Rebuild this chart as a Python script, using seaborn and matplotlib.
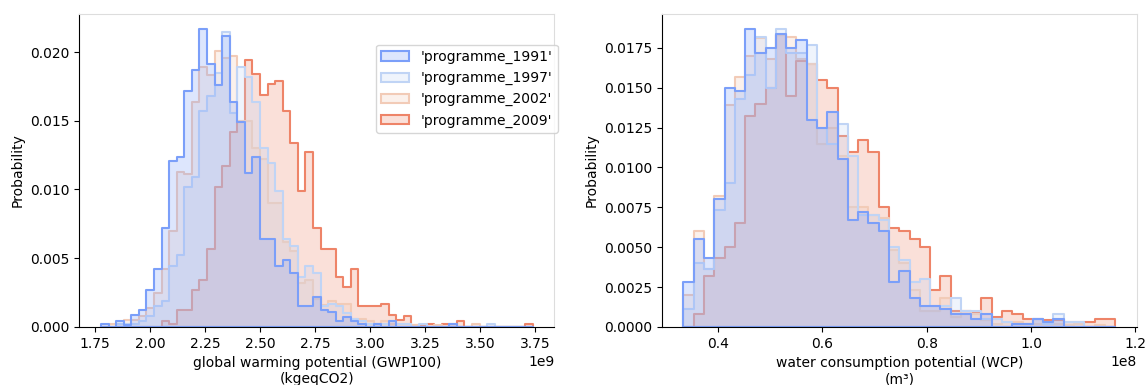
import numpy as np
import pandas as pd
import matplotlib
matplotlib.use("Agg")
import matplotlib.pyplot as plt
import seaborn as sns

# ---------------- data (probability per bin) ----------------
programmes = ["'programme_1991'", "'programme_1997'", "'programme_2002'", "'programme_2009'"]

# global warming potential (GWP100), common bins
gwp_bin_start = 1.7773e9
gwp_bin_width = 0.03440e9
gwp_1991 = [0.0002, 0, 0.0004, 0.0001, 0.0009, 0.0012, 0.0027, 0.0042, 0.0072, 0.0121,
            0.0124, 0.0172, 0.0187, 0.0217, 0.0191, 0.0176, 0.0212, 0.0164, 0.0149, 0.0112,
            0.0124, 0.0064, 0.0064, 0.0044, 0.0049, 0.0039, 0.0015, 0.0015, 0.0022, 0.0012,
            0.0011, 0.0004, 0.0007, 0.0004, 0.0002, 0, 0.0002, 0, 0.0004, 0,
            0, 0, 0, 0, 0, 0, 0.0002, 0, 0, 0,
            0, 0, 0, 0, 0, 0, 0]
gwp_1997 = [0, 0, 0.0002, 0.0002, 0.0002, 0.0004, 0.0008, 0.0015, 0.0019, 0.0044,
            0.0052, 0.0102, 0.0109, 0.0157, 0.0168, 0.0185, 0.0215, 0.0156, 0.0189, 0.0182,
            0.0164, 0.0130, 0.0119, 0.0099, 0.0064, 0.0059, 0.0036, 0.0044, 0.0039, 0.0015,
            0.0017, 0.0015, 0.0010, 0.0006, 0.0004, 0.0002, 0.0002, 0.0002, 0, 0.0002,
            0.0002, 0, 0.0002, 0, 0, 0, 0, 0, 0, 0,
            0, 0.0002, 0, 0, 0, 0, 0]
gwp_2002 = [0, 0.0002, 0.0002, 0.0005, 0.0005, 0.0008, 0.0014, 0.0025, 0.0042, 0.0070,
            0.0113, 0.0111, 0.0164, 0.0189, 0.0183, 0.0201, 0.0196, 0.0197, 0.0150, 0.0150,
            0.0130, 0.0122, 0.0090, 0.0090, 0.0062, 0.0055, 0.0032, 0.0034, 0.0020, 0.0016,
            0.0019, 0.0017, 0.0017, 0.0006, 0.0006, 0.0004, 0.0002, 0.0004, 0.0002, 0.0002,
            0.0002, 0.0001, 0, 0, 0.0001, 0, 0, 0, 0, 0.0002,
            0, 0, 0, 0, 0, 0, 0]
gwp_2009 = [0, 0, 0, 0, 0, 0, 0, 0, 0.0004, 0.0002,
            0.0012, 0.0012, 0.0027, 0.0034, 0.0057, 0.0102, 0.0117, 0.0142, 0.0149, 0.0194,
            0.0184, 0.0169, 0.0177, 0.0179, 0.0157, 0.0134, 0.0099, 0.0127, 0.0072, 0.0057,
            0.0057, 0.0036, 0.0029, 0.0042, 0.0015, 0.0015, 0.0015, 0.0017, 0.0009, 0.0005,
            0.0008, 0.0001, 0.0001, 0.0002, 0, 0.0002, 0.0002, 0.0004, 0, 0,
            0, 0, 0, 0, 0, 0, 0.0002]

# water consumption potential (WCP), common bins
wcp_bin_start = 0.334e8
wcp_bin_width = 0.01969e8
wcp_1991 = [0.0028, 0.0055, 0.0043, 0.0080, 0.0150, 0.0148, 0.0187, 0.0172, 0.0175, 0.0184,
            0.0175, 0.0180, 0.0130, 0.0125, 0.0135, 0.0105, 0.0067, 0.0072, 0.0065, 0.0060,
            0.0028, 0.0035, 0.0018, 0.0013, 0.0013, 0.0011, 0.0008, 0.0008, 0.0005, 0.0008,
            0, 0, 0.0002, 0.0002, 0.0005, 0.0003, 0.0005, 0, 0, 0,
            0, 0]
wcp_1997 = [0.0011, 0.0040, 0.0036, 0.0073, 0.0090, 0.0143, 0.0158, 0.0182, 0.0150, 0.0187,
            0.0172, 0.0172, 0.0177, 0.0125, 0.0115, 0.0127, 0.0107, 0.0070, 0.0070, 0.0067,
            0.0050, 0.0042, 0.0028, 0.0030, 0.0013, 0.0013, 0.0018, 0.0010, 0.0010, 0.0005,
            0.0005, 0.0003, 0.0002, 0.0002, 0.0005, 0.0002, 0.0008, 0.0003, 0.0003, 0,
            0, 0]
wcp_2002 = [0.0020, 0.0060, 0.0036, 0.0082, 0.0139, 0.0157, 0.0170, 0.0181, 0.0168, 0.0183,
            0.0182, 0.0168, 0.0165, 0.0115, 0.0125, 0.0107, 0.0075, 0.0075, 0.0070, 0.0068,
            0.0048, 0.0040, 0.0023, 0.0010, 0.0010, 0.0018, 0.0006, 0.0010, 0.0008, 0.0004,
            0.0002, 0.0003, 0.0003, 0.0002, 0.0002, 0.0003, 0.0002, 0.0001, 0.0002, 0,
            0.0001, 0]
wcp_2009 = [0, 0.0008, 0.0032, 0.0043, 0.0050, 0.0065, 0.0132, 0.0140, 0.0150, 0.0183,
            0.0145, 0.0167, 0.0165, 0.0155, 0.0150, 0.0120, 0.0110, 0.0117, 0.0110, 0.0075,
            0.0062, 0.0060, 0.0055, 0.0050, 0.0023, 0.0032, 0.0010, 0.0010, 0.0009, 0.0018,
            0.0006, 0.0010, 0.0008, 0.0005, 0.0005, 0.0004, 0.0004, 0.0003, 0.0003, 0.0003,
            0.0005, 0.0005]


def build(start, width, series):
    n = len(series[0])
    edges = start + width * np.arange(n + 1)
    centers = (edges[:-1] + edges[1:]) / 2
    frames = []
    for name, vals in zip(programmes, series):
        frames.append(pd.DataFrame({"x": centers, "w": vals, "programme": name}))
    return pd.concat(frames, ignore_index=True), n, (float(edges[0]), float(edges[-1]))


gwp_df, gwp_n, gwp_range = build(gwp_bin_start, gwp_bin_width,
                                 [gwp_1991, gwp_1997, gwp_2002, gwp_2009])
wcp_df, wcp_n, wcp_range = build(wcp_bin_start, wcp_bin_width,
                                 [wcp_1991, wcp_1997, wcp_2002, wcp_2009])

# ---------------- plot ----------------
fig, axes = plt.subplots(1, 2, figsize=(11.47, 3.85), dpi=100)
plt.subplots_adjust(left=0.0692, right=0.991, bottom=0.151, top=0.964, wspace=0.2266)

palette = sns.color_palette("coolwarm", 4)

ax = axes[0]
sns.histplot(data=gwp_df, x="x", weights="w", hue="programme", hue_order=programmes,
             bins=gwp_n, binrange=gwp_range, element="step", stat="count",
             palette=palette, linewidth=1.5, ax=ax)
ax.set_xlabel("global warming potential (GWP100)\n(kgeqCO2)")
ax.set_ylabel("Probability")
sns.move_legend(ax, "upper right", bbox_to_anchor=(1.022, 0.924), title=None,
                frameon=True)

ax = axes[1]
sns.histplot(data=wcp_df, x="x", weights="w", hue="programme", hue_order=programmes,
             bins=wcp_n, binrange=wcp_range, element="step", stat="count",
             palette=palette, linewidth=1.5, ax=ax, legend=False)
ax.set_xlabel("water consumption potential (WCP)\n(m³)")
ax.set_ylabel("Probability")

for ax in axes:
    ax.spines["top"].set_color("#dddddd")
    ax.spines["right"].set_color("#dddddd")

fig.savefig("out.png", dpi=100)
